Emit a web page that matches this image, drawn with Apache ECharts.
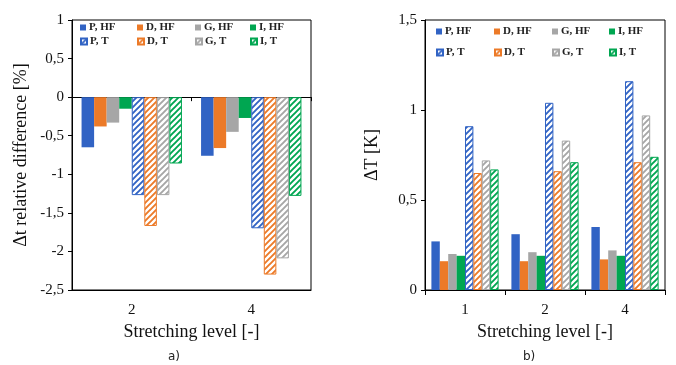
<!DOCTYPE html>
<html lang="en">
<head>
    <meta charset="UTF-8">
    <title>Stretching level</title>
    <script src="https://cdn.jsdelivr.net/npm/echarts@6/dist/echarts.min.js"></script>
    <style>
        body { margin: 0; padding: 0; background: #fff; }
        #chart { width: 676px; height: 365px; }
    </style>
</head>
<body>
    <div id="chart"></div>
    <script>
        // 数据 - 图 a) Δt relative difference [%]
        var levelsA = ['2', '4'];
        var relP_HF = [-0.65, -0.76];
        var relD_HF = [-0.38, -0.66];
        var relG_HF = [-0.33, -0.45];
        var relI_HF = [-0.15, -0.27];
        var relP_T = [-1.27, -1.70];
        var relD_T = [-1.67, -2.30];
        var relG_T = [-1.27, -2.09];
        var relI_T = [-0.86, -1.28];

        // 数据 - 图 b) ΔT [K]
        var levelsB = ['1', '2', '4'];
        var dtP_HF = [0.27, 0.31, 0.35];
        var dtD_HF = [0.16, 0.16, 0.17];
        var dtG_HF = [0.20, 0.21, 0.22];
        var dtI_HF = [0.19, 0.19, 0.19];
        var dtP_T = [0.91, 1.04, 1.16];
        var dtD_T = [0.65, 0.66, 0.71];
        var dtG_T = [0.72, 0.83, 0.97];
        var dtI_T = [0.67, 0.71, 0.74];

        var names = ['P, HF', 'D, HF', 'G, HF', 'I, HF', 'P, T', 'D, T', 'G, T', 'I, T'];
        var colors = ['#3163C4', '#EC7A28', '#A6A6A6', '#00A651'];

        // 斜线填充
        function hatch(c) {
            var cv = document.createElement('canvas');
            cv.width = 6; cv.height = 6;
            var ctx = cv.getContext('2d');
            ctx.fillStyle = '#fff';
            ctx.fillRect(0, 0, 6, 6);
            ctx.strokeStyle = c;
            ctx.lineWidth = 1.9;
            ctx.beginPath();
            ctx.moveTo(-1, 7); ctx.lineTo(7, -1);
            ctx.moveTo(-4, 4); ctx.lineTo(4, -4);
            ctx.moveTo(2, 10); ctx.lineTo(10, 2);
            ctx.stroke();
            return { image: cv, repeat: 'repeat' };
        }

        var serif = 'Liberation Serif';
        var comma = function (v) { return String(v).replace('.', ','); };

        function makeSeries(list, xi, yi) {
            return list.map(function (d, i) {
                var c = colors[i % 4];
                var isT = i >= 4;
                return {
                    name: names[i],
                    type: 'bar',
                    xAxisIndex: xi,
                    yAxisIndex: yi,
                    barGap: '0%',
                    barCategoryGap: '16%',
                    data: d,
                    itemStyle: isT
                        ? { color: hatch(c), borderColor: c, borderWidth: 1 }
                        : { color: c }
                };
            });
        }

        // 图例位置
        var legA = [[80, 22], [137, 22], [195, 22], [250, 22], [80, 36], [137, 36], [195, 36], [250, 36]];
        var legB = [[436, 26], [494, 26], [552, 26], [609, 26], [436, 47], [494, 47], [552, 47], [609, 47]];
        var legends = [];
        legA.concat(legB).forEach(function (p, k) {
            legends.push({
                data: [names[k % 8]],
                left: p[0], top: p[1],
                itemWidth: 6, itemHeight: 6, itemGap: 2,
                padding: 0,
                icon: 'rect',
                selectedMode: false,
                textStyle: { fontFamily: serif, fontSize: 11, fontWeight: 'bold', color: '#222', padding: [0, 0, 0, -2] }
            });
        });

        var axisLabelStyle = { fontFamily: serif, fontSize: 15, color: '#111' };
        var nameStyle = { fontFamily: serif, fontSize: 18, color: '#111' };

        var myChart = echarts.init(document.getElementById('chart'));
        myChart.setOption({
            animation: false,
            backgroundColor: '#fff',
            title: [
                { text: 'a)', left: 163, top: 346, textStyle: { fontFamily: 'DejaVu Sans', fontSize: 12, fontWeight: 'normal', color: '#222' } },
                { text: 'b)', left: 518, top: 346, textStyle: { fontFamily: 'DejaVu Sans', fontSize: 12, fontWeight: 'normal', color: '#222' } }
            ],
            legend: legends,
            grid: [
                { left: 72, top: 20, width: 239, height: 270, show: true, borderColor: '#000', borderWidth: 1, backgroundColor: 'transparent' },
                { left: 425, top: 20, width: 240, height: 270, show: true, borderColor: '#000', borderWidth: 1, backgroundColor: 'transparent' }
            ],
            xAxis: [
                {
                    gridIndex: 0, type: 'category', data: levelsA, position: 'bottom',
                    axisLine: { show: true, onZero: false, lineStyle: { color: '#000' } },
                    axisTick: { show: false },
                    axisLabel: Object.assign({ margin: 13 }, axisLabelStyle),
                    name: 'Stretching level [-]', nameLocation: 'middle', nameGap: 30,
                    nameTextStyle: nameStyle
                },
                {
                    gridIndex: 0, type: 'category', data: levelsA, position: 'top',
                    axisLine: { show: true, onZero: true, lineStyle: { color: '#000' } },
                    axisTick: { show: true, inside: true, length: 4, lineStyle: { color: '#000' } },
                    axisLabel: { show: false }
                },
                {
                    gridIndex: 1, type: 'category', data: levelsB, position: 'bottom',
                    axisLine: { show: true, lineStyle: { color: '#000', width: 1 } },
                    axisTick: { show: true, length: 5, lineStyle: { color: '#000' } },
                    axisLabel: Object.assign({ margin: 13 }, axisLabelStyle),
                    name: 'Stretching level [-]', nameLocation: 'middle', nameGap: 30,
                    nameTextStyle: nameStyle
                }
            ],
            yAxis: [
                {
                    gridIndex: 0, type: 'value', min: -2.5, max: 1, interval: 0.5,
                    axisLine: { show: true, lineStyle: { color: '#000' } },
                    axisTick: { show: true, length: 4, lineStyle: { color: '#000' } },
                    splitLine: { show: false },
                    axisLabel: Object.assign({ margin: 8, formatter: comma }, axisLabelStyle),
                    name: 'Δt relative difference [%]', nameLocation: 'middle', nameGap: 42,
                    nameTextStyle: nameStyle
                },
                {
                    gridIndex: 1, type: 'value', min: 0, max: 1.5, interval: 0.5,
                    axisLine: { show: true, lineStyle: { color: '#000' } },
                    axisTick: { show: true, length: 4, lineStyle: { color: '#000' } },
                    splitLine: { show: false },
                    axisLabel: Object.assign({ margin: 8, formatter: comma }, axisLabelStyle),
                    name: 'ΔT [K]', nameLocation: 'middle', nameGap: 44,
                    nameTextStyle: nameStyle
                }
            ],
            series: makeSeries([relP_HF, relD_HF, relG_HF, relI_HF, relP_T, relD_T, relG_T, relI_T], 0, 0)
                .concat(makeSeries([dtP_HF, dtD_HF, dtG_HF, dtI_HF, dtP_T, dtD_T, dtG_T, dtI_T], 2, 1))
        });
    </script>
</body>
</html>
